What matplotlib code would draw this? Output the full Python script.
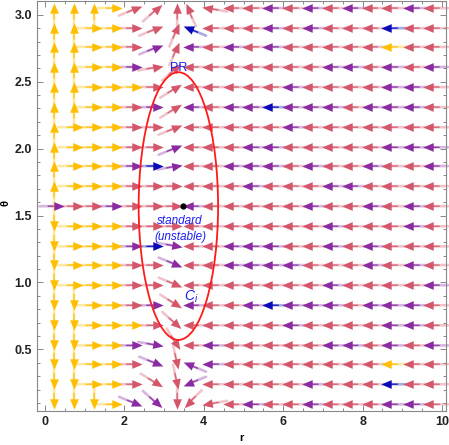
import numpy as np
import matplotlib
matplotlib.use('Agg')
import matplotlib.pyplot as plt
from matplotlib.markers import MarkerStyle
from matplotlib.path import Path
from matplotlib.transforms import Affine2D
from matplotlib.patches import Ellipse
from matplotlib.ticker import MultipleLocator

plt.rcParams['font.family'] = ['Liberation Sans', 'DejaVu Sans']
plt.rcParams['mathtext.fontset'] = 'custom'
plt.rcParams['mathtext.it'] = 'Liberation Sans:italic'
plt.rcParams['mathtext.rm'] = 'Liberation Sans'

# arrow grid
r_cols = [0.36, 0.84, 1.31, 1.82, 2.33, 2.84, 3.33, 3.59, 4.09, 4.6,
          5.1, 5.6, 6.1, 6.6, 7.1, 7.6, 8.1, 8.6, 9.15, 9.65]
theta_rows = [3.05, 2.90, 2.76, 2.61, 2.46, 2.31, 2.16, 2.01, 1.87, 1.72, 1.57,
              1.42, 1.27, 1.13, 0.98, 0.83, 0.68, 0.53, 0.39, 0.24, 0.09]

# one char per column: direction of the arrow ('.' = none)
row_dirs = [
    "...>ac^gh<<<<<<<<<<<",
    "..>>>ade<<<<<<<<<<<<",
    "..>>>ad<<<<<<<<<<<<<",
    "..>>>ic<<<<<<<<<<<<<",
    "..>>>>b<<<<<<<<<<<<<",
    "..>>>>b<<<<<<<<<<<<<",
    ".>>>>>a<<<<<<<<<<<<<",
    ".>>>>>a<<<<<<<<<<<<<",
    ".>>>>>i<<<<<<<<<<<<<",
    ".>>>>>><<<<<<<<<<<<<",
    ">>>>>>><<<<<<<<<<<<<",
    ".>>>>>><<<<<<<<<<<<<",
    ".>>>>>I<<<<<<<<<<<<<",
    ".>>>>>A<<<<<<<<<<<<<",
    ".>>>>>A<<<<<<<<<<<<<",
    "..>>>>B<<<<<<<<<<<<<",
    "..>>>>C<<<<<<<<<<<<<",
    "..>>>IM<<<<<<<<<<<<<",
    "..>>>AUe<<<<<<<<<<<<",
    "..>>>BUE<<<<<<<<<<<<",
    "...>ACvFH<<<<<<<<<<<",
]
# one char per column: colour of the arrow
row_colors = [
    "...yrrrrrrrprprprrpr",
    "..yyrrrbrrrprprrrbrr",
    "..yyrprprprprrrrryrr",
    "..yyprrrrrrrrrpprprp",
    "..yyyrrrrrrrprrrrppr",
    "..yyrprprppbppprpppr",
    ".yyyrrrrrrrrprrrrrrr",
    ".yyyrrprrrpprrrrrppp",
    ".yyypbprrppprprrprrp",
    ".yyyrrrrrrprrrpprrrr",
    "prrprrrprrrrrprrprpr",
    ".yyyrrrrrrrrrrprrrpr",
    ".yyypbprrppprrprprrr",
    ".yyyrrprrpppprrrprpr",
    ".yyyrrrrrrrrrrprrrrp",
    "..yyrprprrpbppprpppr",
    "..yyyrrrrrrrprrrrppr",
    "..yypprrprrrrrpprprp",
    "..yyrprpprrrrrrrryrr",
    "..yyrrrprrrrrprrrbrr",
    "...ypprrrrprrprrrppr",
]
# vertical streams on the left
vert_r = [0.23, 0.73, 1.24]
vert_dirs = [
    "^^^^^^^^^^.vvvvvvvvvv",
    "^^^^^^.........vvvvvv",
    "^...................v",
]

angle_of = {'>': 0, '<': 180, '^': 90, 'v': -90,
            'i': 10, 'a': 22, 'b': 32, 'c': 42, 'M': -58, 'm': 58, 'd': 67, 'u': 78,
            'I': -10, 'A': -22, 'B': -32, 'C': -42, 'D': -67, 'U': -78,
            'h': 170, 'e': 158, 'f': 135, 'g': 115,
            'H': -170, 'E': -158, 'F': -135, 'G': -115}
palette = {'y': '#FFBE00', 'r': '#D4566A', 'p': '#8A2BA2', 'b': '#0A0AB8'}

head = Path([(0.5, 0), (-0.5, 0.42), (-0.5, -0.42), (0.5, 0)],
            [Path.MOVETO, Path.LINETO, Path.LINETO, Path.CLOSEPOLY])

fig = plt.figure(figsize=(4.49, 4.45), dpi=100)
ax = fig.add_axes([0.0824, 0.0764, 0.911, 0.921])
ax.set_xlim(-0.2, 10.1)
ax.set_ylim(0.04, np.pi - 0.04)


def arrow(x, y, ang, c):
    dx, dy = np.cos(np.radians(ang)), np.sin(np.radians(ang))
    ax.annotate('', xy=(x, y), xytext=(-20 * dx, -20 * dy), textcoords='offset pixels',
                arrowprops=dict(arrowstyle='-', color=c, alpha=0.35, lw=1.9,
                                shrinkA=0, shrinkB=0), zorder=2)
    ax.annotate('', xy=(x, y), xytext=(-11 * dx, -11 * dy), textcoords='offset pixels',
                arrowprops=dict(arrowstyle='-', color=c, alpha=0.85, lw=1.0,
                                shrinkA=0, shrinkB=0), zorder=2)
    ax.plot(x, y, ls='', marker=MarkerStyle(head, transform=Affine2D().rotate_deg(ang)),
            ms=7.5, color=c, mew=0, zorder=3)


for th, dirs, cols in zip(theta_rows, row_dirs, row_colors):
    for r, d, c in zip(r_cols, dirs, cols):
        if d != '.':
            arrow(r, th, angle_of[d], palette[c])

for r, dirs in zip(vert_r, vert_dirs):
    for th, d in zip(theta_rows, dirs):
        if d != '.':
            arrow(r, th, angle_of[d], palette['y'])

ax.add_patch(Ellipse((3.36, np.pi / 2), 2.0, 2.0, fill=False, ec='#FF1A1A', lw=1.3, zorder=4))
ax.plot(3.48, np.pi / 2, 'o', color='black', ms=3.5, zorder=5)

blue = '#1E1EF0'
ax.text(3.36, 2.60, 'PR', color=blue, fontsize=9, ha='center', va='center', zorder=6)
ax.text(3.40, 1.46, 'standard', color=blue, fontsize=8.5, style='italic',
        ha='center', va='center', zorder=6)
ax.text(3.40, 1.34, '(unstable)', color=blue, fontsize=8.5, style='italic',
        ha='center', va='center', zorder=6)
ax.text(3.68, 0.89, r'$C_i$', color=blue, fontsize=10, ha='center', va='center', zorder=6)

ax.set_xticks([0, 2, 4, 6, 8, 10])
ax.set_yticks([0.5, 1.0, 1.5, 2.0, 2.5, 3.0])
ax.set_yticklabels(['0.5', '1.0', '1.5', '2.0', '2.5', '3.0'])
ax.xaxis.set_minor_locator(MultipleLocator(0.5))
ax.yaxis.set_minor_locator(MultipleLocator(0.1))
ax.tick_params(which='both', direction='in', top=True, right=True, color='#888888',
               labelsize=9, labelcolor='#222222', width=0.7)
ax.tick_params(which='major', length=4)
ax.tick_params(which='minor', length=2.2)
for lab in ax.get_xticklabels() + ax.get_yticklabels():
    lab.set_fontweight('bold')
for s in ax.spines.values():
    s.set_color('#888888')
    s.set_linewidth(0.8)

ax.set_xlabel('r', fontsize=8, fontweight='bold')
ax.set_ylabel('θ', fontsize=8, fontweight='bold')
ax.xaxis.set_label_coords(0.5, -0.065)
ax.yaxis.set_label_coords(-0.076, 0.507)
ax.xaxis.label.set_va('center')
ax.yaxis.label.set_va('center')

plt.savefig('out.png', dpi=100)
